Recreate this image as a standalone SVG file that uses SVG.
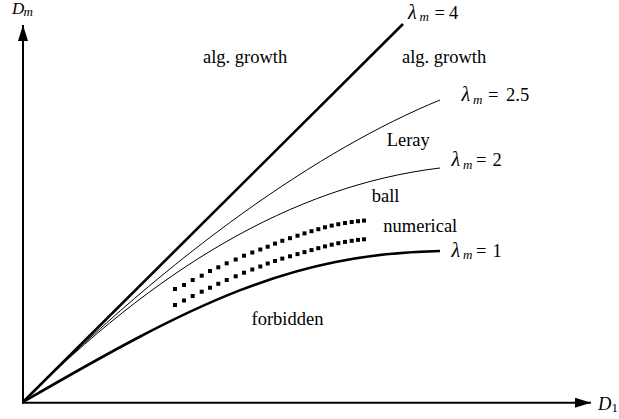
<svg xmlns="http://www.w3.org/2000/svg" xmlns:xlink="http://www.w3.org/1999/xlink" width="619" height="419" viewBox="0 0 619 419" font-family="'Liberation Serif', 'Times New Roman', Times, serif">
<style>
text{font-family:'Liberation Serif','Times New Roman',Times,serif;font-size:18.5px;fill:#000}
.it{font-style:italic}
.lam{font-style:italic;font-size:20px}
.sub{font-style:italic;font-size:13px}
.sub1{font-size:13px}
.axis{stroke:#000;stroke-width:2;fill:none}
.thick{stroke:#000;stroke-width:2.6;fill:none}
.thin{stroke:#000;stroke-width:1;fill:none}
.dot{fill:#000}
</style>
<defs>
<marker id="arr" markerUnits="userSpaceOnUse" markerWidth="17" markerHeight="11" refX="16" refY="5" orient="auto">
<path d="M0,0 L16,5 L0,10 z" fill="#000"/>
</marker>
<rect id="sq" x="-2" y="-2" width="4" height="4" class="dot"/>
</defs>
<rect width="619" height="419" fill="#fff"/>
<g id="axes">
<line class="axis" x1="23" y1="403.5" x2="23" y2="25" marker-end="url(#arr)"/>
<line class="axis" x1="22" y1="402.7" x2="591" y2="402.7" marker-end="url(#arr)"/>
</g>
<g id="connectors">
<line id="lambda4" class="thick" x1="23" y1="402" x2="403" y2="24"/>
<path id="lambda25" class="thin" d="M23,402 C173,252 320,149.2 440,100"/>
<path id="lambda2" class="thin" d="M23,402 C153,272 290,186 440,168"/>
<path id="lambda1" class="thick" d="M23,402 C193,303.4 290,254 440,251"/>
</g>
<g id="numerical-upper">
<use xlink:href="#sq" x="175" y="289"/><use xlink:href="#sq" x="184" y="285"/><use xlink:href="#sq" x="192.7" y="280"/><use xlink:href="#sq" x="201.7" y="275.7"/><use xlink:href="#sq" x="210" y="271"/><use xlink:href="#sq" x="218.3" y="267.3"/><use xlink:href="#sq" x="226.7" y="263.3"/><use xlink:href="#sq" x="235.7" y="259.5"/><use xlink:href="#sq" x="244" y="255.7"/><use xlink:href="#sq" x="252.3" y="252.5"/><use xlink:href="#sq" x="260.3" y="249.5"/><use xlink:href="#sq" x="267.7" y="246.7"/><use xlink:href="#sq" x="275" y="243.6"/><use xlink:href="#sq" x="282.3" y="240.8"/><use xlink:href="#sq" x="290" y="238.2"/><use xlink:href="#sq" x="297.5" y="235.7"/><use xlink:href="#sq" x="304.5" y="233.4"/><use xlink:href="#sq" x="311.5" y="231.2"/><use xlink:href="#sq" x="318.3" y="229.2"/><use xlink:href="#sq" x="325" y="227.3"/><use xlink:href="#sq" x="331.7" y="225.6"/><use xlink:href="#sq" x="338.3" y="224.2"/><use xlink:href="#sq" x="345" y="223"/><use xlink:href="#sq" x="351.7" y="222"/><use xlink:href="#sq" x="358" y="221.2"/><use xlink:href="#sq" x="364" y="220.6"/>
</g>
<g id="numerical-lower">
<use xlink:href="#sq" x="175" y="305"/><use xlink:href="#sq" x="184" y="300.5"/><use xlink:href="#sq" x="192.7" y="296"/><use xlink:href="#sq" x="201.7" y="291.7"/><use xlink:href="#sq" x="210" y="287.7"/><use xlink:href="#sq" x="218.3" y="283.8"/><use xlink:href="#sq" x="226.7" y="280"/><use xlink:href="#sq" x="235.7" y="276.3"/><use xlink:href="#sq" x="244" y="272.7"/><use xlink:href="#sq" x="252.3" y="269.5"/><use xlink:href="#sq" x="260.3" y="266.5"/><use xlink:href="#sq" x="267.7" y="263.5"/><use xlink:href="#sq" x="275" y="261"/><use xlink:href="#sq" x="282.3" y="258.6"/><use xlink:href="#sq" x="290" y="256.3"/><use xlink:href="#sq" x="297.5" y="254.1"/><use xlink:href="#sq" x="304.5" y="252.1"/><use xlink:href="#sq" x="311.5" y="250.1"/><use xlink:href="#sq" x="318.3" y="248.2"/><use xlink:href="#sq" x="325" y="246.4"/><use xlink:href="#sq" x="331.7" y="244.7"/><use xlink:href="#sq" x="338.3" y="243.2"/><use xlink:href="#sq" x="345" y="241.9"/><use xlink:href="#sq" x="351.7" y="240.8"/><use xlink:href="#sq" x="358" y="239.9"/><use xlink:href="#sq" x="364" y="239.3"/>
</g>
<g id="label-Dm"><text x="12" y="13.5" class="it" style="font-size:17px">D</text><text x="23.5" y="16" class="sub">m</text></g>
<g id="label-D1"><text x="598" y="409.5" class="it">D</text><text x="611.5" y="411.5" class="sub1">1</text></g>
<g id="label-l4"><text x="408" y="18.5" class="lam">λ</text><text x="419.5" y="21" class="sub">m</text><text x="434.5" y="18.5">=</text><text x="449" y="18.5">4</text></g>
<g id="label-l25"><text x="461.5" y="101" class="lam">λ</text><text x="473" y="103.5" class="sub">m</text><text x="488" y="101">=</text><text x="506" y="101">2.5</text></g>
<g id="label-l2"><text x="451.5" y="166" class="lam">λ</text><text x="463" y="168.5" class="sub">m</text><text x="476" y="166">=</text><text x="492.5" y="166">2</text></g>
<g id="label-l1"><text x="451.5" y="256.5" class="lam">λ</text><text x="463" y="259" class="sub">m</text><text x="476" y="256.5">=</text><text x="492.5" y="256.5">1</text></g>
<g id="region-alg1"><text x="203" y="63">alg. growth</text></g>
<g id="region-alg2"><text x="402" y="63">alg. growth</text></g>
<g id="region-leray"><text x="386.7" y="146">Leray</text></g>
<g id="region-ball"><text x="371.7" y="201.7">ball</text></g>
<g id="region-numerical"><text x="383.3" y="231.7">numerical</text></g>
<g id="region-forbidden"><text x="251.5" y="325">forbidden</text></g>
</svg>
